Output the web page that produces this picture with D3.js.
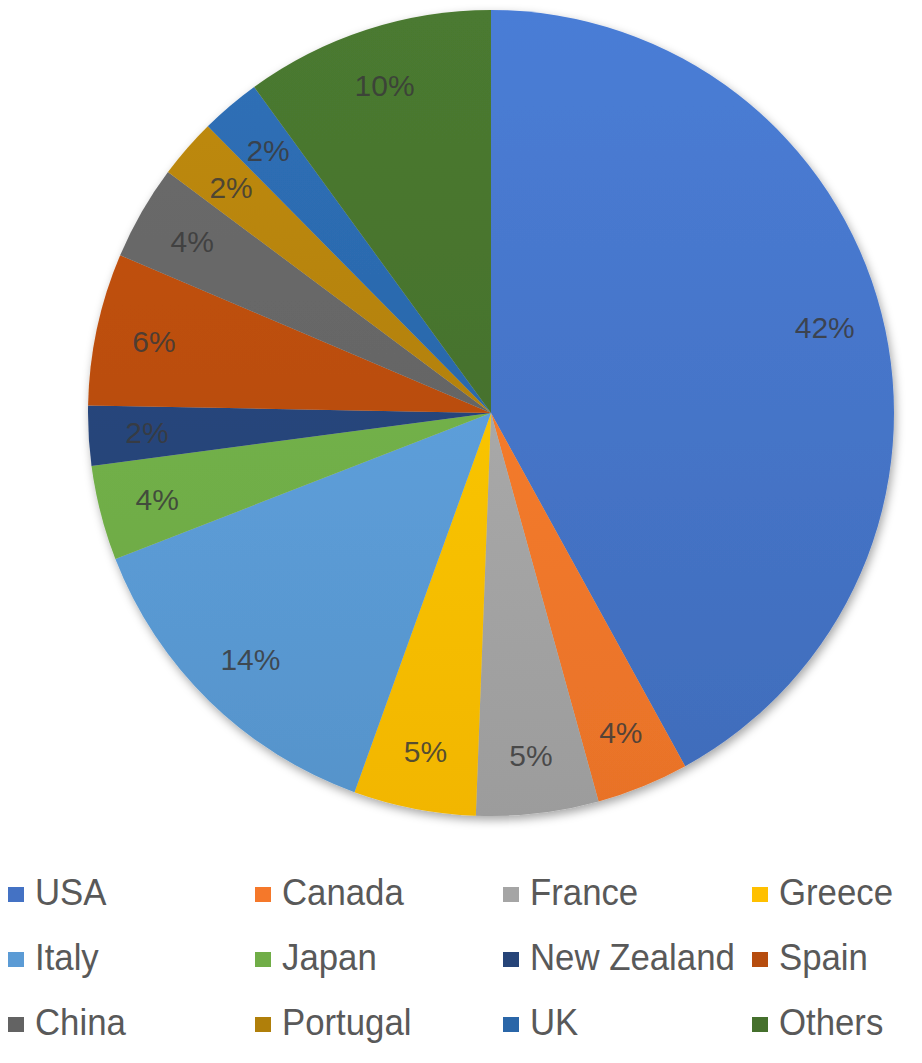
<!DOCTYPE html>
<html>
<head>
<meta charset="utf-8">
<script src="https://cdn.jsdelivr.net/npm/d3@7"></script>
<style>
  body { margin: 0; background: #fff; }
  text { font-family: "Liberation Sans", Arial, sans-serif; }
</style>
</head>
<body>
<div id="chart"></div>
<script>
// data (shares in %, labels are rounded)
var countries = ["USA", "Canada", "France", "Greece", "Italy", "Japan",
                 "New Zealand", "Spain", "China", "Portugal", "UK", "Others"];
var shares = [42.0, 3.7, 4.9, 4.9, 13.6, 3.8, 2.4, 6.1, 3.8, 2.4, 2.4, 10.0];
var colours = ["#4472C4", "#F5782A", "#A5A5A5", "#FFC000", "#5B9BD5", "#70AD47",
               "#264478", "#B64C0E", "#636363", "#B07F0A", "#2A66A8", "#45702C"];

var width = 922, height = 1063;
var cx = 491, cy = 413, radius = 403;

var svg = d3.select("#chart").append("svg")
  .attr("width", width)
  .attr("height", height);

var defs = svg.append("defs");

// soft shadow round the pie
var shadow = defs.append("filter")
  .attr("id", "shadow")
  .attr("x", "-10%").attr("y", "-10%")
  .attr("width", "120%").attr("height", "120%");
shadow.append("feDropShadow")
  .attr("dx", 2).attr("dy", 4)
  .attr("stdDeviation", 5)
  .attr("flood-color", "#000")
  .attr("flood-opacity", 0.35);

// light-to-dark gradient per colour (office style)
colours.forEach(function(c, i) {
  var g = defs.append("linearGradient")
    .attr("id", "grad" + i)
    .attr("gradientUnits", "userSpaceOnUse")
    .attr("x1", 0).attr("y1", -radius)
    .attr("x2", 0).attr("y2", radius);
  g.append("stop").attr("offset", "0%").attr("stop-color", d3.color(c).brighter(0.25));
  g.append("stop").attr("offset", "100%").attr("stop-color", d3.color(c).darker(0.15));
});

var colour = d3.scaleOrdinal()
  .domain(countries)
  .range(colours);

var pie = d3.pie()
  .sort(null)
  .value(function(d) { return d.value; });

var data = countries.map(function(c, i) { return {name: c, value: shares[i], idx: i}; });

var arc = d3.arc().innerRadius(0).outerRadius(radius);
var labelArc = d3.arc().innerRadius(radius * 0.855).outerRadius(radius * 0.855);

var g = svg.append("g")
  .attr("transform", "translate(" + cx + "," + cy + ")");

var slices = g.append("g").attr("filter", "url(#shadow)");

slices.selectAll("path")
  .data(pie(data))
  .enter()
    .append("path")
      .attr("d", arc)
      .attr("fill", function(d) { return "url(#grad" + d.data.idx + ")"; });

g.selectAll("text.lbl")
  .data(pie(data))
  .enter()
    .append("text")
      .attr("class", "lbl")
      .attr("transform", function(d) { return "translate(" + labelArc.centroid(d) + ")"; })
      .attr("text-anchor", "middle")
      .attr("dy", "0.36em")
      .attr("font-size", 30)
      .attr("fill", "#3a3a3a")
      .attr("fill-opacity", 0.85)
      .text(function(d) { return Math.round(d.data.value) + "%"; });

// legend, 4 columns x 3 rows
var legendX = [8, 255, 503, 752];
var legendY = [892, 957, 1022];

var legend = svg.selectAll(".legend")
  .data(data)
  .enter()
    .append("g")
      .attr("class", "legend")
      .attr("transform", function(d, i) {
        return "translate(" + legendX[i % 4] + "," + legendY[Math.floor(i / 4)] + ")";
      });

legend.append("rect")
  .attr("x", 0)
  .attr("y", -5)
  .attr("width", 16)
  .attr("height", 15)
  .attr("fill", function(d) { return colour(d.name); });

legend.append("text")
  .attr("transform", "translate(27,0) scale(0.94,1)")
  .attr("dy", "0.36em")
  .attr("font-size", 37)
  .attr("fill", "#595959")
  .text(function(d) { return d.name; });
</script>
</body>
</html>
